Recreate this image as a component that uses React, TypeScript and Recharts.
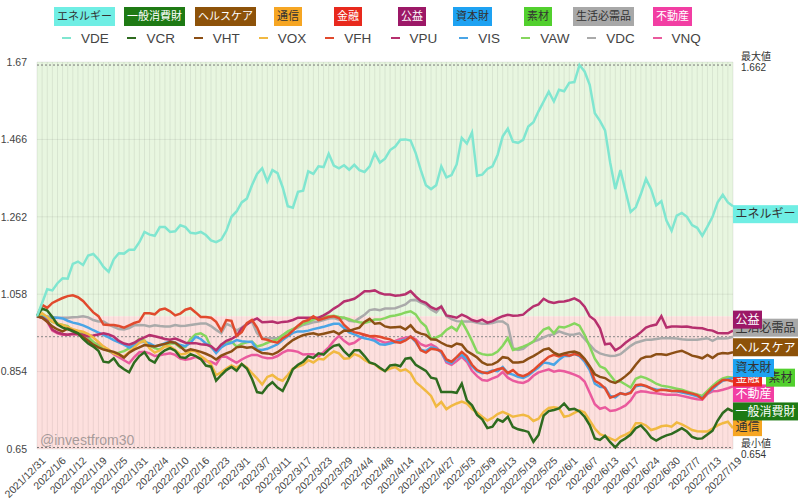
import { LineChart, Line, XAxis, YAxis, CartesianGrid, ReferenceArea, ReferenceLine } from 'recharts';

// trading days, 2021/12/31 .. 2022/7/19
const monthDays: [number, number[]][] = [
  [1, [3, 4, 5, 6, 7, 10, 11, 12, 13, 14, 18, 19, 20, 21, 24, 25, 26, 27, 28, 31]],
  [2, [1, 2, 3, 4, 7, 8, 9, 10, 11, 14, 15, 16, 17, 18, 22, 23, 24, 25, 28]],
  [3, [1, 2, 3, 4, 7, 8, 9, 10, 11, 14, 15, 16, 17, 18, 21, 22, 23, 24, 25, 28, 29, 30, 31]],
  [4, [1, 4, 5, 6, 7, 8, 11, 12, 13, 14, 18, 19, 20, 21, 22, 25, 26, 27, 28, 29]],
  [5, [2, 3, 4, 5, 6, 9, 10, 11, 12, 13, 16, 17, 18, 19, 20, 23, 24, 25, 26, 27, 31]],
  [6, [1, 2, 3, 6, 7, 8, 9, 10, 13, 14, 15, 16, 17, 21, 22, 23, 24, 27, 28, 29, 30]],
  [7, [1, 5, 6, 7, 8, 11, 12, 13, 14, 15, 18, 19]],
];
const dates = ['2021/12/31', ...monthDays.flatMap(([m, days]) => days.map((d) => `2022/${m}/${d}`))];

const tickers = ['VDE', 'VCR', 'VHT', 'VOX', 'VFH', 'VPU', 'VIS', 'VAW', 'VDC', 'VNQ'];
const sectors = ['エネルギー', '一般消費財', 'ヘルスケア', '通信', '金融', '公益', '資本財', '素材', '生活必需品', '不動産'];

const vde = [
  1.000, 1.035, 1.071, 1.068, 1.087, 1.100, 1.099, 1.138, 1.144, 1.135,
  1.160, 1.164, 1.150, 1.130, 1.117, 1.150, 1.166, 1.165, 1.175, 1.175,
  1.195, 1.222, 1.215, 1.212, 1.235, 1.235, 1.222, 1.224, 1.240, 1.235,
  1.220, 1.218, 1.222, 1.214, 1.200, 1.195, 1.202, 1.225, 1.262, 1.276,
  1.300, 1.310, 1.345, 1.375, 1.390, 1.355, 1.385, 1.377, 1.340, 1.290,
  1.286, 1.328, 1.331, 1.382, 1.375, 1.395, 1.393, 1.428, 1.397, 1.390,
  1.398, 1.386, 1.399, 1.385, 1.380, 1.395, 1.430, 1.405, 1.415, 1.438,
  1.447, 1.465, 1.466, 1.463, 1.430, 1.385, 1.345, 1.335, 1.345, 1.395,
  1.366, 1.372, 1.400, 1.470, 1.455, 1.484, 1.370, 1.373, 1.388, 1.395,
  1.425, 1.474, 1.494, 1.460, 1.457, 1.465, 1.500, 1.511, 1.540, 1.566,
  1.592, 1.566, 1.597, 1.593, 1.615, 1.617, 1.662, 1.645, 1.610, 1.535,
  1.515, 1.490, 1.405, 1.335, 1.385, 1.330, 1.275, 1.287, 1.322, 1.362,
  1.335, 1.292, 1.303, 1.252, 1.225, 1.265, 1.272, 1.262, 1.240, 1.233,
  1.212, 1.236, 1.262, 1.300, 1.320, 1.300, 1.290,
];
const vcr = [
  1.000, 1.020, 1.015, 0.998, 0.978, 0.970, 0.966, 0.960, 0.955, 0.940,
  0.928, 0.920, 0.909, 0.880, 0.878, 0.889, 0.870, 0.860, 0.852, 0.878,
  0.895, 0.905, 0.885, 0.878, 0.900, 0.910, 0.916, 0.909, 0.892, 0.890,
  0.900, 0.895, 0.887, 0.870, 0.867, 0.830, 0.845, 0.858, 0.866, 0.856,
  0.874, 0.862, 0.835, 0.800, 0.797, 0.815, 0.826, 0.812, 0.803, 0.830,
  0.860, 0.872, 0.880, 0.894, 0.890, 0.902, 0.899, 0.912, 0.922, 0.925,
  0.908, 0.895, 0.910, 0.910, 0.895, 0.878, 0.874, 0.864, 0.855, 0.870,
  0.872, 0.868, 0.888, 0.890, 0.872, 0.864, 0.856, 0.838, 0.835, 0.800,
  0.800, 0.800, 0.798, 0.822, 0.778, 0.765, 0.740, 0.728, 0.705, 0.709,
  0.728, 0.722, 0.735, 0.708, 0.702, 0.699, 0.695, 0.669, 0.687, 0.738,
  0.750, 0.753, 0.757, 0.770, 0.754, 0.756, 0.749, 0.735, 0.713, 0.678,
  0.674, 0.685, 0.668, 0.654, 0.670, 0.678, 0.688, 0.705, 0.712, 0.698,
  0.680, 0.672, 0.680, 0.686, 0.690, 0.697, 0.705, 0.696, 0.682, 0.677,
  0.678, 0.688, 0.698, 0.725, 0.745, 0.756, 0.749,
];
const vht = [
  1.000, 0.996, 0.985, 0.973, 0.965, 0.960, 0.967, 0.962, 0.955, 0.945,
  0.935, 0.925, 0.918, 0.912, 0.909, 0.906, 0.900, 0.891, 0.904, 0.912,
  0.918, 0.924, 0.922, 0.920, 0.924, 0.927, 0.932, 0.930, 0.920, 0.908,
  0.913, 0.910, 0.906, 0.901, 0.895, 0.886, 0.896, 0.902, 0.907, 0.918,
  0.920, 0.917, 0.919, 0.910, 0.903, 0.902, 0.899, 0.905, 0.915, 0.927,
  0.937, 0.944, 0.950, 0.953, 0.955, 0.951, 0.954, 0.957, 0.960, 0.953,
  0.962, 0.961, 0.966, 0.970, 0.985, 0.993, 0.980, 0.982, 0.973, 0.970,
  0.971, 0.972, 0.965, 0.976, 0.960, 0.954, 0.951, 0.939, 0.938, 0.930,
  0.923, 0.920, 0.928, 0.925, 0.908, 0.900, 0.891, 0.878, 0.872, 0.873,
  0.880, 0.892, 0.890, 0.878, 0.878, 0.880, 0.888, 0.895, 0.903, 0.912,
  0.915, 0.904, 0.898, 0.902, 0.905, 0.907, 0.902, 0.888, 0.868, 0.847,
  0.840, 0.837, 0.828, 0.824, 0.832, 0.842, 0.854, 0.872, 0.888, 0.893,
  0.894, 0.900, 0.900, 0.898, 0.902, 0.906, 0.909, 0.903, 0.896, 0.893,
  0.889, 0.898, 0.890, 0.900, 0.903, 0.902, 0.905,
];
const vox = [
  1.000, 1.008, 0.998, 0.986, 0.980, 0.977, 0.971, 0.966, 0.962, 0.959,
  0.953, 0.944, 0.932, 0.920, 0.912, 0.902, 0.897, 0.894, 0.905, 0.918,
  0.930, 0.935, 0.915, 0.904, 0.910, 0.921, 0.920, 0.911, 0.899, 0.901,
  0.908, 0.908, 0.895, 0.885, 0.873, 0.845, 0.852, 0.862, 0.870, 0.864,
  0.874, 0.865, 0.850, 0.836, 0.820, 0.840, 0.845, 0.835, 0.830, 0.845,
  0.862, 0.867, 0.872, 0.884, 0.878, 0.888, 0.886, 0.898, 0.907, 0.902,
  0.888, 0.889, 0.900, 0.895, 0.885, 0.877, 0.873, 0.862, 0.856, 0.862,
  0.866, 0.856, 0.860, 0.850, 0.826, 0.815, 0.803, 0.790, 0.762, 0.774,
  0.755, 0.764, 0.770, 0.775, 0.770, 0.755, 0.746, 0.735, 0.725, 0.732,
  0.742, 0.748, 0.742, 0.735, 0.738, 0.740, 0.736, 0.724, 0.730, 0.748,
  0.758, 0.760, 0.758, 0.735, 0.738, 0.745, 0.752, 0.746, 0.725, 0.704,
  0.689, 0.684, 0.678, 0.672, 0.682, 0.688, 0.695, 0.718, 0.718, 0.712,
  0.700, 0.704, 0.710, 0.712, 0.709, 0.720, 0.715, 0.708, 0.700, 0.697,
  0.696, 0.696, 0.704, 0.712, 0.718, 0.722, 0.705,
];
const vfh = [
  1.000, 1.030, 1.022, 1.035, 1.042, 1.048, 1.053, 1.055, 1.050, 1.040,
  1.025, 1.010, 1.000, 0.978, 0.977, 0.977, 0.974, 0.970, 0.976, 0.982,
  0.986, 1.008, 1.008, 1.005, 1.017, 1.020, 1.013, 1.002, 1.007, 1.017,
  1.021, 1.010, 0.998, 0.998, 0.996, 0.985, 0.962, 0.990, 0.988, 0.948,
  0.958, 0.982, 0.990, 0.970, 0.940, 0.938, 0.933, 0.930, 0.942, 0.950,
  0.962, 0.975, 0.986, 0.990, 1.000, 0.990, 0.994, 0.998, 1.000, 0.995,
  0.977, 0.965, 0.958, 0.955, 0.951, 0.947, 0.948, 0.946, 0.942, 0.939,
  0.932, 0.930, 0.936, 0.946, 0.935, 0.910, 0.904, 0.914, 0.912, 0.908,
  0.886, 0.880, 0.892, 0.906, 0.894, 0.872, 0.858, 0.852, 0.850, 0.855,
  0.860, 0.863, 0.850, 0.858, 0.846, 0.842, 0.848, 0.858, 0.870, 0.882,
  0.893, 0.898, 0.894, 0.899, 0.896, 0.900, 0.897, 0.885, 0.866, 0.830,
  0.822, 0.810, 0.785, 0.790, 0.797, 0.794, 0.798, 0.818, 0.820, 0.816,
  0.810, 0.803, 0.806, 0.805, 0.803, 0.803, 0.802, 0.799, 0.796, 0.792,
  0.782, 0.798, 0.812, 0.822, 0.832, 0.832, 0.828,
];
const vpu = [
  1.000, 0.996, 0.988, 0.965, 0.957, 0.953, 0.951, 0.954, 0.953, 0.951,
  0.947, 0.949, 0.952, 0.955, 0.952, 0.946, 0.935, 0.928, 0.925, 0.930,
  0.938, 0.944, 0.950, 0.947, 0.944, 0.940, 0.938, 0.941, 0.936, 0.930,
  0.929, 0.929, 0.926, 0.925, 0.921, 0.910, 0.925, 0.935, 0.940, 0.948,
  0.968, 0.978, 0.988, 0.994, 0.984, 0.985, 0.986, 0.982, 0.985, 0.986,
  0.990, 0.996, 0.996, 0.996, 0.996, 0.996, 1.002, 1.010, 1.020, 1.028,
  1.039, 1.042, 1.046, 1.055, 1.066, 1.066, 1.068, 1.061, 1.057, 1.057,
  1.054, 1.055, 1.058, 1.066, 1.052, 1.040, 1.035, 1.024, 1.018, 1.025,
  1.002, 0.999, 0.996, 1.004, 0.998, 0.990, 0.986, 0.991, 0.983, 0.987,
  0.994, 1.000, 1.004, 1.001, 1.002, 1.004, 1.016, 1.026, 1.031, 1.046,
  1.038, 1.035, 1.038, 1.039, 1.042, 1.047, 1.040, 1.025, 1.000, 0.990,
  0.968, 0.926, 0.928, 0.910, 0.918, 0.930, 0.940, 0.947, 0.958, 0.970,
  0.975, 0.978, 1.000, 0.970, 0.973, 0.973, 0.972, 0.973, 0.970, 0.969,
  0.968, 0.964, 0.962, 0.956, 0.955, 0.955, 0.962,
];
const vis = [
  1.000, 0.998, 0.996, 0.996, 0.996, 0.994, 0.988, 0.983, 0.980, 0.976,
  0.970, 0.963, 0.957, 0.951, 0.944, 0.937, 0.931, 0.925, 0.917, 0.923,
  0.932, 0.932, 0.928, 0.921, 0.923, 0.929, 0.933, 0.930, 0.924, 0.921,
  0.930, 0.946, 0.940, 0.928, 0.920, 0.903, 0.918, 0.926, 0.930, 0.937,
  0.934, 0.933, 0.932, 0.912, 0.911, 0.914, 0.920, 0.926, 0.937, 0.947,
  0.956, 0.960, 0.960, 0.962, 0.966, 0.969, 0.972, 0.976, 0.980, 0.980,
  0.969, 0.957, 0.952, 0.946, 0.942, 0.939, 0.935, 0.926, 0.925, 0.928,
  0.932, 0.935, 0.938, 0.946, 0.932, 0.912, 0.908, 0.918, 0.915, 0.905,
  0.882, 0.876, 0.891, 0.898, 0.886, 0.868, 0.855, 0.850, 0.852, 0.857,
  0.855, 0.866, 0.850, 0.846, 0.840, 0.837, 0.844, 0.855, 0.865, 0.878,
  0.876, 0.872, 0.885, 0.895, 0.895, 0.901, 0.895, 0.880, 0.858, 0.822,
  0.814, 0.812, 0.790, 0.786, 0.797, 0.794, 0.800, 0.815, 0.818, 0.815,
  0.810, 0.807, 0.806, 0.806, 0.803, 0.802, 0.799, 0.796, 0.793, 0.789,
  0.785, 0.796, 0.808, 0.820, 0.830, 0.834, 0.837,
];
const vaw = [
  1.000, 1.000, 0.992, 0.985, 0.980, 0.977, 0.974, 0.962, 0.958, 0.955,
  0.945, 0.932, 0.922, 0.916, 0.908, 0.903, 0.904, 0.908, 0.915, 0.928,
  0.940, 0.936, 0.922, 0.916, 0.912, 0.922, 0.928, 0.928, 0.917, 0.919,
  0.940, 0.952, 0.955, 0.947, 0.918, 0.907, 0.925, 0.930, 0.933, 0.920,
  0.927, 0.931, 0.933, 0.920, 0.924, 0.930, 0.935, 0.939, 0.950, 0.960,
  0.966, 0.973, 0.980, 0.985, 0.991, 0.995, 0.998, 1.000, 1.001, 0.998,
  0.996, 0.992, 0.987, 0.984, 0.982, 0.986, 0.991, 0.991, 0.995, 1.000,
  1.002, 1.005, 1.010, 1.013, 1.005, 0.985, 0.973, 0.940, 0.944, 0.950,
  0.964, 0.972, 0.962, 0.986, 0.962, 0.935, 0.905, 0.900, 0.898, 0.899,
  0.907, 0.922, 0.942, 0.911, 0.915, 0.920, 0.926, 0.933, 0.950, 0.965,
  0.970, 0.955, 0.972, 0.970, 0.975, 0.981, 0.975, 0.951, 0.920, 0.888,
  0.868, 0.862, 0.845, 0.828, 0.828, 0.820, 0.812, 0.835, 0.841, 0.837,
  0.830, 0.822, 0.817, 0.815, 0.812, 0.809, 0.806, 0.802, 0.798, 0.794,
  0.790, 0.803, 0.816, 0.828, 0.836, 0.840, 0.838,
];
const vdc = [
  1.000, 1.000, 1.000, 0.998, 0.996, 0.996, 0.996, 0.997, 0.998, 1.000,
  0.997, 0.990, 0.986, 0.986, 0.978, 0.972, 0.966, 0.965, 0.969, 0.976,
  0.977, 0.976, 0.973, 0.976, 0.974, 0.973, 0.973, 0.977, 0.974, 0.975,
  0.977, 0.979, 0.981, 0.981, 0.974, 0.964, 0.955, 0.980, 0.974, 0.962,
  0.970, 0.980, 0.986, 0.955, 0.943, 0.942, 0.942, 0.942, 0.950, 0.958,
  0.965, 0.970, 0.977, 0.980, 0.984, 0.986, 0.990, 0.994, 0.995, 0.991,
  0.996, 0.988, 0.986, 0.995, 1.004, 1.016, 1.018, 1.016, 1.020, 1.020,
  1.021, 1.026, 1.031, 1.042, 1.043, 1.036, 1.030, 1.018, 1.010, 1.026,
  1.000, 0.992, 0.987, 0.986, 0.986, 0.986, 0.983, 0.980, 0.980, 0.982,
  0.986, 0.986, 0.977, 0.916, 0.911, 0.914, 0.925, 0.933, 0.938, 0.944,
  0.950, 0.952, 0.960, 0.955, 0.951, 0.952, 0.955, 0.940, 0.925, 0.910,
  0.902, 0.898, 0.895, 0.896, 0.900, 0.911, 0.922, 0.930, 0.934, 0.938,
  0.938, 0.940, 0.942, 0.942, 0.942, 0.941, 0.939, 0.938, 0.938, 0.938,
  0.940, 0.942, 0.935, 0.942, 0.941, 0.942, 0.946,
];
const vnq = [
  1.000, 0.998, 0.985, 0.962, 0.955, 0.951, 0.951, 0.953, 0.952, 0.946,
  0.939, 0.931, 0.925, 0.920, 0.910, 0.900, 0.892, 0.884, 0.876, 0.892,
  0.905, 0.906, 0.902, 0.895, 0.897, 0.900, 0.902, 0.898, 0.888, 0.885,
  0.888, 0.893, 0.887, 0.882, 0.880, 0.873, 0.894, 0.893, 0.885, 0.877,
  0.886, 0.893, 0.898, 0.898, 0.892, 0.889, 0.890, 0.895, 0.904, 0.910,
  0.909, 0.906, 0.899, 0.900, 0.900, 0.894, 0.905, 0.918, 0.935, 0.948,
  0.935, 0.926, 0.930, 0.940, 0.951, 0.947, 0.940, 0.935, 0.930, 0.932,
  0.935, 0.940, 0.943, 0.946, 0.939, 0.926, 0.921, 0.926, 0.918, 0.905,
  0.878, 0.872, 0.882, 0.893, 0.880, 0.856, 0.842, 0.832, 0.830, 0.836,
  0.841, 0.853, 0.838, 0.830, 0.826, 0.824, 0.830, 0.843, 0.852, 0.856,
  0.860, 0.854, 0.857, 0.855, 0.851, 0.846, 0.840, 0.828, 0.798, 0.768,
  0.756, 0.760, 0.750, 0.752, 0.758, 0.765, 0.778, 0.798, 0.802, 0.801,
  0.798, 0.797, 0.795, 0.793, 0.793, 0.793, 0.790, 0.787, 0.784, 0.781,
  0.780, 0.795, 0.802, 0.803, 0.806, 0.810, 0.815,
];

const yTicks = [0.65, 0.854, 1.058, 1.262, 1.466, 1.67];
const maxValue = 1.662;
const minValue = 0.654;
const midLine = 0.946;

const seriesValues = [vde, vcr, vht, vox, vfh, vpu, vis, vaw, vdc, vnq];

const lineColors = ['#80e6d0', '#2e6b1f', '#8c4f15', '#f1b942', '#e14a2d', '#b6306e', '#4aa5e6', '#86d65e', '#aaaaaa', '#ea5a9d'];
const boxColors = ['#6feee4', '#1e7a14', '#8d5209', '#f6a623', '#e8291d', '#9c1867', '#1ea2f2', '#52d02e', '#a8a8a8', '#f23ea3'];
const boxText = ['#333', '#fff', '#fff', '#333', '#fff', '#fff', '#333', '#333', '#333', '#fff'];

// legend / end-label layout (not data)
const legendBoxLeft = [54, 124, 195, 274, 334, 398, 453, 524, 573, 653];
const endLabelDy = [8, 0, -5, -1, -4, -11, -10, 0, -9, 7];
const endLabelDx = [0, 0, 0, 0, 0, 0, 0, 33, 0, 0];
const labelOrder = [9, 3, 1, 7, 4, 6, 2, 8, 5, 0];

const rows = dates.map((date, i) => {
  const r: Record<string, string | number> = { date };
  tickers.forEach((t, k) => {
    r[t] = seriesValues[k][i];
  });
  return r;
});

const FONT = '"Liberation Sans", Arial, "Noto Sans CJK JP", sans-serif';
const last = dates.length - 1;

function DateTick(props: any) {
  const { x, y, payload, index } = props;
  const idx = index ?? payload.index;
  if (idx % 4 !== 0) return <g />;
  const tx = x + 4;
  const ty = y + 5;
  return (
    <text x={tx} y={ty} transform={`rotate(-45 ${tx} ${ty})`} textAnchor="end" dy="0.71em" fontSize={10.5} fill="#444" fontFamily={FONT}>
      {payload.value}
    </text>
  );
}

const endLabel = (k: number) => (p: any) => {
  if (p.index !== last) return <g key={`e-${k}-${p.index}`} />;
  const x = p.cx + endLabelDx[k];
  const y = p.cy + endLabelDy[k];
  const w = sectors[k].length * 12 + 5;
  return (
    <g key={`e-${k}-${p.index}`}>
      <rect x={x} y={y - 9} width={w} height={18} fill={boxColors[k]} />
      <text x={x + 2.5} y={y} dy="0.36em" fontSize={12} fill={boxText[k]} fontFamily={FONT}>
        {sectors[k]}
      </text>
    </g>
  );
};

const extremeLabel = (title: string, value: number, up: boolean) => (p: any) => {
  const vb = p.viewBox || {};
  const x = (vb.x ?? 0) + (vb.width ?? 0) + 8;
  const y = vb.y ?? 0;
  return (
    <g fontFamily={FONT} fontSize={10} fill="#333">
      <text x={x} y={up ? y - 9 : y - 4} dy="0.35em">{title}</text>
      <text x={x} y={up ? y + 2 : y + 7} dy="0.35em">{value}</text>
    </g>
  );
};

export default function App() {
  return (
    <div style={{ position: 'absolute', left: 0, top: 0, width: 800, height: 501, background: '#fff', fontFamily: FONT }}>
      <LineChart width={800} height={501} data={rows} margin={{ top: 62, right: 67, bottom: 0, left: 0 }}>
        <ReferenceArea y1={1} y2={1.67} fill="#e4f4da" fillOpacity={0.85} stroke="none" zIndex={-200} />
        <ReferenceArea y1={0.65} y2={1} fill="#fddad8" fillOpacity={0.85} stroke="none" zIndex={-200} />
        <CartesianGrid stroke="rgba(0,0,0,0.07)" zIndex={-100} />
        <XAxis dataKey="date" interval={0} tick={<DateTick />} tickLine={false} axisLine={false} tickSize={0} height={52} />
        <YAxis
          domain={[0.65, 1.67]}
          ticks={yTicks}
          width={37}
          tickLine={false}
          axisLine={false}
          tickMargin={4}
          tick={{ fontSize: 10.5, fill: '#444', fontFamily: FONT }}
        />
        <ReferenceLine y={maxValue} stroke="#777" strokeDasharray="2 2" label={extremeLabel('最大値', maxValue, true)} />
        <ReferenceLine y={minValue} stroke="#777" strokeDasharray="2 2" label={extremeLabel('最小値', minValue, false)} />
        <ReferenceLine y={midLine} stroke="#888" strokeDasharray="2 2" />
        {[...tickers.keys()].reverse().map((k) => (
          <Line
            key={tickers[k]}
            dataKey={tickers[k]}
            stroke={lineColors[k]}
            strokeWidth={2.5}
            dot={false}
            activeDot={false}
            isAnimationActive={false}
            type="linear"
          />
        ))}
        {labelOrder.map((k) => (
          <Line
            key={`lbl-${tickers[k]}`}
            dataKey={tickers[k]}
            stroke="none"
            dot={endLabel(k)}
            activeDot={false}
            legendType="none"
            isAnimationActive={false}
          />
        ))}
      </LineChart>

      {/* legend: sector boxes + ticker lines */}
      {sectors.map((s, k) => (
        <div
          key={s}
          style={{
            position: 'absolute', left: legendBoxLeft[k], top: 7, height: 19, lineHeight: '19px', padding: '0 3px',
            background: boxColors[k], color: boxText[k], fontSize: 11, whiteSpace: 'nowrap',
          }}
        >
          {s}
        </div>
      ))}
      {tickers.map((t, k) => (
        <div
          key={t}
          style={{
            position: 'absolute', left: 52.6 + 65.7 * k, top: 29, width: 65.7, height: 18,
            display: 'flex', alignItems: 'center', justifyContent: 'center', fontSize: 13.5, color: '#444',
          }}
        >
          <span style={{ display: 'inline-block', width: 9, height: 2, background: lineColors[k], marginRight: 10 }} />
          {t}
        </div>
      ))}
      <div style={{ position: 'absolute', left: 40, top: 432, fontSize: 14, color: 'rgba(110,110,110,0.6)' }}>@investfrom30</div>
    </div>
  );
}
